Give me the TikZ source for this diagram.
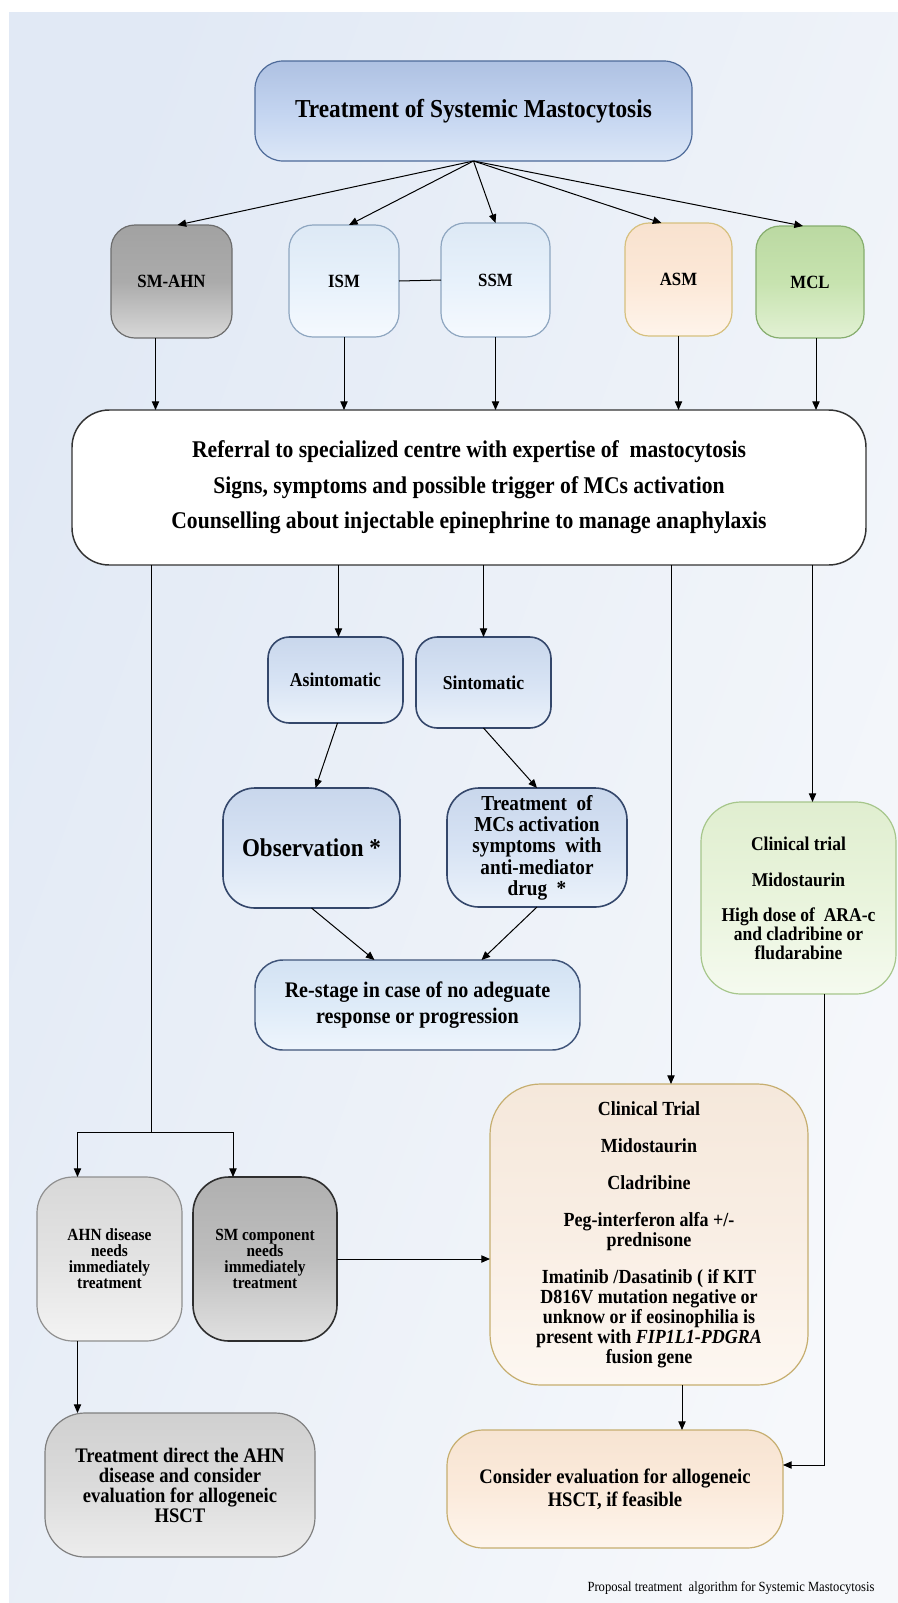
\documentclass[tikz,border=0pt]{standalone}
\usepackage{fontspec}
\setmainfont{Liberation Serif}[FakeStretch=0.9]
\usetikzlibrary{arrows.meta,calc}
\definecolor{bgL}{HTML}{E1E9F5}
\definecolor{bgR}{HTML}{F6F8FB}
\definecolor{topB}{HTML}{4D6A99}\definecolor{topT}{HTML}{AEC1E2}\definecolor{topM}{HTML}{C3D4F0}\definecolor{topL}{HTML}{DCE7F7}
\definecolor{grB}{HTML}{6D6D6D}\definecolor{grT}{HTML}{A2A2A2}\definecolor{grM}{HTML}{ABABAB}\definecolor{grL}{HTML}{D8D8D8}
\definecolor{ibB}{HTML}{8EA6C0}\definecolor{ibT}{HTML}{DDE9F5}\definecolor{ibM}{HTML}{E7F1FB}\definecolor{ibL}{HTML}{F5F9FE}
\definecolor{asB}{HTML}{D6C07E}\definecolor{asT}{HTML}{F8E2CF}\definecolor{asM}{HTML}{FCE8D7}\definecolor{asL}{HTML}{FEF4EB}
\definecolor{mcB}{HTML}{86AD6E}\definecolor{mcT}{HTML}{BBD9A2}\definecolor{mcM}{HTML}{C7E3AF}\definecolor{mcL}{HTML}{E2F1D4}
\definecolor{bigB}{HTML}{333333}
\definecolor{stB}{HTML}{34476B}\definecolor{stT}{HTML}{C9D7EC}\definecolor{stM}{HTML}{D7E3F4}\definecolor{stL}{HTML}{EBF2FA}
\definecolor{rsB}{HTML}{40557A}\definecolor{rsT}{HTML}{D3E2F3}\definecolor{rsM}{HTML}{DEEBF8}\definecolor{rsL}{HTML}{EEF5FC}
\definecolor{gnB}{HTML}{A6C68B}\definecolor{gnT}{HTML}{E0EED0}\definecolor{gnM}{HTML}{E9F4DC}\definecolor{gnL}{HTML}{F5FAEF}
\definecolor{pcB}{HTML}{C6AE6F}\definecolor{pcT}{HTML}{F5E8DB}\definecolor{pcM}{HTML}{F9EEE4}\definecolor{pcL}{HTML}{FDF7F1}
\definecolor{cnT}{HTML}{F7E4D2}\definecolor{cnM}{HTML}{FBEADB}\definecolor{cnL}{HTML}{FEF5EC}
\definecolor{ahB}{HTML}{8F8F8F}\definecolor{ahT}{HTML}{D8D8D8}\definecolor{ahM}{HTML}{E3E3E3}\definecolor{ahL}{HTML}{F3F3F3}
\definecolor{scB}{HTML}{2E2E2E}\definecolor{scT}{HTML}{B0B0B0}\definecolor{scM}{HTML}{BEBEBE}\definecolor{scL}{HTML}{E0E0E0}
\definecolor{tdB}{HTML}{7F7F7F}\definecolor{tdT}{HTML}{D0D0D0}\definecolor{tdM}{HTML}{DBDBDB}\definecolor{tdL}{HTML}{EDEDED}
\newcommand{\fsz}[2]{\fontsize{#1}{#2}\selectfont}
\newcommand{\placebox}[7]{%
  \node[#6, minimum width={(#4-#2)*0.75pt}, minimum height={(#5-#3)*0.75pt}] (#1) at ({(#2+#4)/2},{(#3+#5)/2}) {#7};}
\tikzset{
  bx/.style={draw, rounded corners=#1, line width=0.9pt, inner sep=2pt, outer sep=0pt, align=center},
  bx/.default=15pt,
  shd/.style n args={3}{top color=#1, bottom color=#3, middle color=#2},
  arr/.style={-{Triangle[length=6.5pt,width=5.5pt]}, line width=0.75pt},
  ln/.style={line width=0.75pt}
}
\begin{document}
\begin{tikzpicture}[x=0.75pt,y=-0.75pt]
\useasboundingbox (0,0) rectangle (898,1603);
\fill[white] (0,0) rectangle (898,1603);
\shade[left color=bgL, right color=bgR, shading angle=70] (9,12) rectangle (898,1603);

\placebox{top}{255}{61}{692}{161}{bx=21pt, draw=topB, shd={topT}{topM}{topL}, font=\bfseries\fsz{19.4pt}{22pt}}{Treatment of Systemic Mastocytosis}
\placebox{smahn}{111}{225}{232}{338}{bx=18pt, draw=grB, shd={grT}{grM}{grL}, font=\bfseries\fsz{14pt}{16pt}}{SM-AHN}
\placebox{ism}{289}{225}{399}{337}{bx=18pt, draw=ibB, shd={ibT}{ibM}{ibL}, font=\bfseries\fsz{14pt}{16pt}}{ISM}
\placebox{ssm}{441}{223}{550}{337}{bx=18pt, draw=ibB, shd={ibT}{ibM}{ibL}, font=\bfseries\fsz{14pt}{16pt}}{SSM}
\placebox{asm}{625}{223}{732}{336}{bx=18pt, draw=asB, shd={asT}{asM}{asL}, font=\bfseries\fsz{14pt}{16pt}}{ASM}
\placebox{mcl}{756}{226}{864}{338}{bx=18pt, draw=mcB, shd={mcT}{mcM}{mcL}, font=\bfseries\fsz{14pt}{16pt}}{MCL}

\placebox{big}{72}{410}{866}{565}{bx=28pt, draw=bigB, fill=white, line width=1.1pt, font=\bfseries\fsz{18pt}{26.5pt}}{Referral to specialized centre with expertise of\ \ mastocytosis\\Signs, symptoms\ and\ possible trigger of MCs activation\\Counselling about\ injectable epinephrine to manage\ anaphylaxis}

\placebox{asin}{268}{637}{403}{723}{bx=16pt, draw=stB, line width=1.2pt, shd={stT}{stM}{stL}, font=\bfseries\fsz{14.7pt}{16pt}}{Asintomatic}
\placebox{sint}{416}{637}{551}{728}{bx=16pt, draw=stB, line width=1.2pt, shd={stT}{stM}{stL}, font=\bfseries\fsz{14.7pt}{16pt}}{Sintomatic}
\placebox{obs}{223}{788}{400}{908}{bx=24pt, draw=stB, line width=1.2pt, shd={stT}{stM}{stL}, font=\bfseries\fsz{19.2pt}{22pt}}{Observation *}
\placebox{treat}{447}{788}{627}{907}{bx=24pt, draw=stB, line width=1.2pt, shd={stT}{stM}{stL}, font=\bfseries\fsz{16pt}{16pt}}{Treatment\ \ of\\MCs activation\\symptoms\ \ with\\anti-mediator\\drug\ \ *}
\placebox{restage}{255}{960}{580}{1050}{bx=21pt, draw=rsB, line width=1.1pt, shd={rsT}{rsM}{rsL}, font=\bfseries\fsz{16.7pt}{19.5pt}}{Re-stage in case of no adeguate\\response or progression}

\placebox{green}{701}{802}{896}{994}{bx=30pt, draw=gnB, shd={gnT}{gnM}{gnL}, font=\bfseries\fsz{14.6pt}{13.9pt}}{Clinical trial\\[13pt]Midostaurin\\[13pt]High dose of\ \ ARA-c\\and cladribine or\\fludarabine}

\placebox{peach}{490}{1084}{808}{1385}{bx=38pt, draw=pcB, shd={pcT}{pcM}{pcL}, font=\bfseries\fsz{15pt}{15pt}}{Clinical Trial\\[12.7pt]Midostaurin\\[12.7pt]Cladribine\\[12.7pt]Peg-interferon alfa +/-\\prednisone\\[12.7pt]Imatinib /Dasatinib ( if KIT\\D816V mutation negative or\\unknow or if eosinophilia is\\present with \textit{FIP1L1-PDGRA}\\fusion gene}

\placebox{consider}{447}{1430}{783}{1548}{bx=27pt, draw=pcB, shd={cnT}{cnM}{cnL}, font=\bfseries\fsz{15.5pt}{17pt}}{Consider evaluation for allogeneic\\HSCT, if feasible}

\placebox{ahn}{37}{1177}{182}{1341}{bx=27pt, draw=ahB, shd={ahT}{ahM}{ahL}, font=\bfseries\fsz{12.8pt}{12pt}}{AHN disease\\needs\\immediately\\treatment}
\placebox{smc}{193}{1177}{337}{1341}{bx=27pt, draw=scB, line width=1.2pt, shd={scT}{scM}{scL}, font=\bfseries\fsz{12.8pt}{12pt}}{SM component\\needs\\immediately\\treatment}
\placebox{tdir}{45}{1413}{315}{1557}{bx=30pt, draw=tdB, shd={tdT}{tdM}{tdL}, font=\bfseries\fsz{15.5pt}{15pt}}{Treatment direct the AHN\\disease and consider\\evaluation for allogeneic\\HSCT}

\node[inner sep=0pt, font=\fsz{10.5pt}{12pt}] (cap) at (731,1588) {Proposal treatment\ \ algorithm for Systemic Mastocytosis};

% connectors from the title
\draw[arr] (top.south) -- ($(smahn.north)+(6,0)$);
\draw[arr] (top.south) -- ($(ism.north)+(5,0)$);
\draw[arr] (top.south) -- (ssm.north);
\draw[arr] (top.south) -- ($(asm.north)+(-17,0)$);
\draw[arr] (top.south) -- ($(mcl.north)+(-7,0)$);
\draw[ln] (ism.east) -- (ssm.west);

% down to referral box
\coordinate (d1) at ($(smahn.south)+(-16,0)$);
\coordinate (d5) at ($(mcl.south)+(6,0)$);
\draw[arr] (d1) -- (d1 |- big.north);
\draw[arr] (ism.south) -- (ism.south |- big.north);
\draw[arr] (ssm.south) -- (ssm.south |- big.north);
\draw[arr] (asm.south) -- (asm.south |- big.north);
\draw[arr] (d5) -- (d5 |- big.north);

% from referral box
\coordinate (jl) at (151,1132);
\coordinate (ja) at ($(ahn.north)+(-32,0)$);
\coordinate (jb) at ($(smc.north)+(-32,0)$);
\draw[ln] (jl |- big.south) -- (jl);
\draw[ln] (ja |- jl) -- (jb |- jl);
\draw[arr] (ja |- jl) -- (ja);
\draw[arr] (jb |- jl) -- (jb);
\coordinate (a1) at ($(asin.north)+(3,0)$);
\draw[arr] (a1 |- big.south) -- (a1);
\draw[arr] (sint.north |- big.south) -- (sint.north);
\coordinate (p1) at ($(peach.north)+(22,0)$);
\draw[arr] (p1 |- big.south) -- (p1);
\coordinate (g1) at ($(green.north)+(14,0)$);
\draw[arr] (g1 |- big.south) -- (g1);

% middle column
\draw[arr] ($(asin.south)+(2,0)$) -- ($(obs.north)+(4,0)$);
\draw[arr] (sint.south) -- (treat.north);
\draw[arr] (obs.south) -- ($(restage.north)+(-43,0)$);
\draw[arr] (treat.south) -- ($(restage.north)+(64,0)$);

% right column
\coordinate (p2) at ($(peach.south)+(33,0)$);
\draw[arr] (p2) -- (p2 |- consider.north);
\coordinate (g2) at ($(green.south)+(26,0)$);
\coordinate (ce) at ($(consider.east)+(0,-24)$);
\draw[arr] (g2) |- (ce);

% left column
\draw[arr] (smc.east) -- (smc.east -| peach.west);
\coordinate (ab) at ($(ahn.south)+(-32,0)$);
\draw[arr] (ab) -- (ab |- tdir.north);
\end{tikzpicture}
\end{document}
